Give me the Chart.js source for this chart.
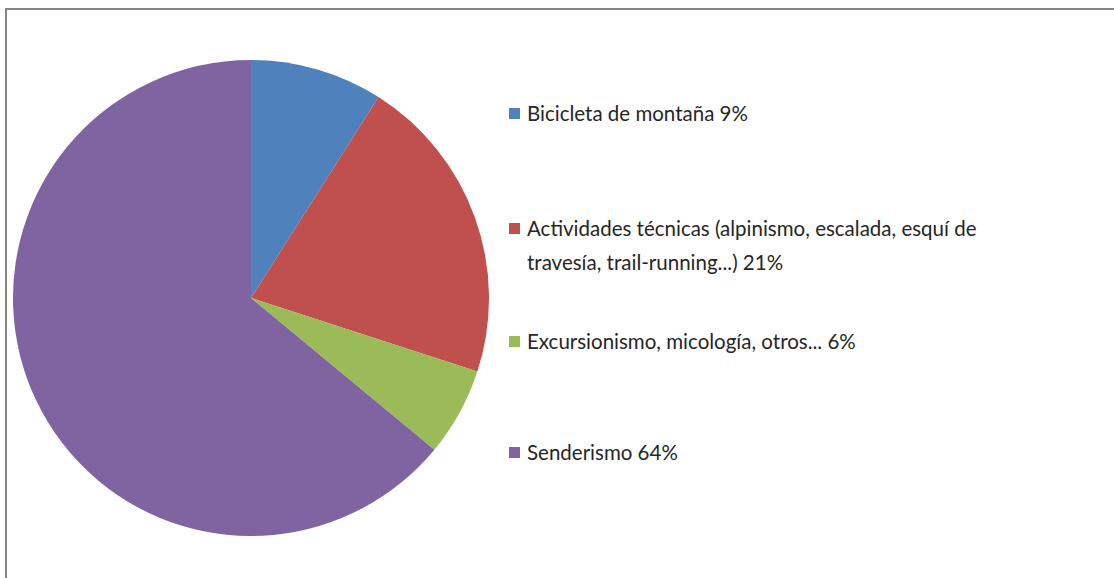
<!DOCTYPE html>
<html>
<head>
<meta charset="utf-8">
<script src="https://cdn.jsdelivr.net/npm/chart.js@4"></script>
<style>
  html, body { margin: 0; padding: 0; background: #fff; }
  #frame {
    position: absolute; left: 5px; top: 8px; width: 1109px; height: 570px;
    border-top: 2px solid #858585; border-left: 2px solid #858585;
    box-sizing: border-box;
  }
  #pie-box { position: absolute; left: 13px; top: 60px; width: 476px; height: 476px; }
  .legend-item {
    position: absolute; left: 509px; width: 500px;
    font-family: Lato, "Liberation Sans", sans-serif; font-size: 20.5px;
    line-height: 34px; color: #262626; padding-left: 18px;
  }
  .legend-item .swatch {
    position: absolute; left: 0; top: 12px; width: 11px; height: 11px;
  }
</style>
</head>
<body>
<div id="frame"></div>
<div id="pie-box"><canvas id="result-chart"></canvas></div>
<div id="legend"></div>
<script>
const labels = [
  "Bicicleta de montaña",
  "Actividades técnicas (alpinismo, escalada, esquí de travesía, trail-running...)",
  "Excursionismo, micología, otros...",
  "Senderismo",
];
const values = [9, 21, 6, 64];
const colors = ["#4f81bd", "#c0504d", "#9bbb59", "#8064a2"];
const legend_tops = [96, 211, 324, 435];

const get_chart_config = () => {
  return {
    type: "pie",
    data: {
      labels: labels,
      datasets: [
        {
          data: values,
          backgroundColor: colors,
          borderWidth: 0,
        },
      ],
    },
    options: {
      responsive: true,
      maintainAspectRatio: false,
      animation: false,
      layout: { padding: 0 },
      plugins: {
        legend: { display: false },
        tooltip: { enabled: false },
      },
    },
  };
};

const draw_legend = () => {
  const box = document.getElementById("legend");
  labels.forEach((label, i) => {
    const item = document.createElement("div");
    item.className = "legend-item";
    item.style.top = legend_tops[i] + "px";
    const swatch = document.createElement("span");
    swatch.className = "swatch";
    swatch.style.background = colors[i];
    item.appendChild(swatch);
    item.appendChild(document.createTextNode(`${label} ${values[i]}%`));
    box.appendChild(item);
  });
};

new Chart(document.getElementById("result-chart"), get_chart_config());
draw_legend();
</script>
</body>
</html>
